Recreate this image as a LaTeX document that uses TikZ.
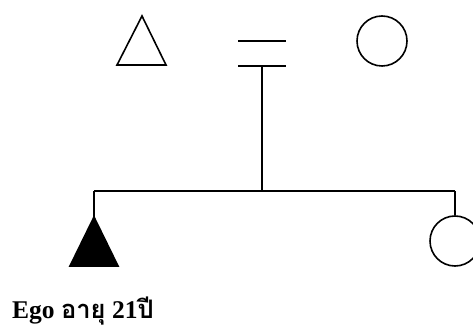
\documentclass[tikz,border=0pt]{standalone}
\usepackage{fontspec}
\setmainfont{Liberation Serif}
\newfontfamily\thaifont[Script=Thai]{Loma}
\usepackage{tikz}
\usetikzlibrary{positioning}

\begin{document}
\begin{tikzpicture}[
        x=1pt, y=-1pt,
        line/.style={
            draw=black,
            line width=1.6pt
        },
        female/.style={
            circle,
            draw=black,
            line width=1.6pt,
            minimum size=50pt,
            inner sep=0pt
        },
        label/.style={
            anchor=base west,
            font=\bfseries\fontsize{25.5}{28}\selectfont,
            inner sep=0pt
        }
    ]
        \useasboundingbox (0,0) rectangle (473,328);
        \clip (0,0) rectangle (473,328);

        % Parents (father, marriage, mother)
        \coordinate (father) at (142,16);
        \draw[line, line join=miter] (father) -- (166,65) -- (117,65) -- cycle;
        \node[female] (mother) at (382,41) {};

        % Marriage sign
        \coordinate (marriageA) at (238,41);
        \coordinate (marriageB) at (238,66);
        \coordinate (marriage) at (262,66);
        \draw[line] (marriageA) -- ++(48,0);
        \draw[line] (marriageB) -- ++(48,0);

        % Sibling line
        \coordinate (siblings) at (262,191);
        \coordinate (egoline) at (94,191);
        \coordinate (sisterline) at (455,191);
        \draw[line] (marriage) -- (siblings);
        \draw[line] (egoline) -- (sisterline);

        % Children (ego, sister)
        \coordinate (ego) at (94,217);
        \draw[line, line join=miter, fill=black] (ego) -- (118,266) -- (70,266) -- cycle;
        \node[female] (sister) at (455,241) {};
        \draw[line] (egoline) -- (ego);
        \draw[line] (sisterline) -- (sister.north);

        % Caption
        \node[label] (caption) at (12,318) {Ego {\thaifont อายุ} 21{\thaifont ปี}};

    \end{tikzpicture}
\end{document}
